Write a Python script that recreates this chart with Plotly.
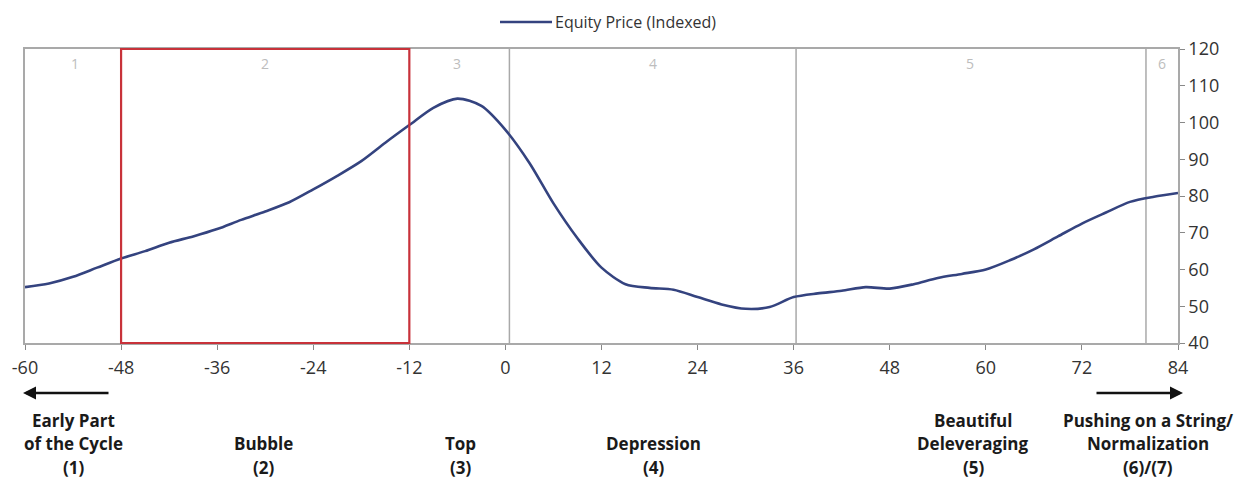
import plotly.graph_objects as go

# ---- data ----
months = list(range(-60, 85, 3))
equity_price = [55.2, 56.2, 58.0, 60.5, 63.0, 65.0, 67.3, 69.0, 71.0, 73.5,
                75.8, 78.3, 81.8, 85.5, 89.5, 94.5, 99.3, 104.0, 106.5, 104.5,
                98.0, 89.0, 78.0, 68.5, 60.5, 56.0, 55.0, 54.5, 52.5, 50.5,
                49.3, 49.8, 52.5, 53.5, 54.2, 55.2, 54.8, 56.0, 57.7, 58.8,
                60.0, 62.5, 65.5, 69.0, 72.5, 75.5, 78.4, 79.8, 80.8]
x_ticks = list(range(-60, 85, 12))
y_ticks = list(range(40, 121, 10))
phase_numbers = ["1", "2", "3", "4", "5", "6"]
phase_number_x = [-53.75, -30, -6, 18.4, 58, 82]
phase_dividers = [0.5, 36.3, 80]
bubble_box = (-48, -12)
phase_labels = [
    ["Early Part", "of the Cycle", "(1)"],
    ["Bubble", "(2)"],
    ["Top", "(3)"],
    ["Depression", "(4)"],
    ["Beautiful", "Deleveraging", "(5)"],
    ["Pushing on a String/", "Normalization", "(6)/(7)"],
]
phase_label_x = [-54, -30.25, -5.6, 18.5, 58.4, 80.25]

W, H = 1244, 479
ML, MR, MT, MB = 25, 66, 49, 136
PW, PH = W - ML - MR, H - MT - MB


def py(pix):
    """pixel row -> paper y"""
    return (H - MB - pix) / PH


def px(pix):
    return (pix - ML) / PW


FONT = "Open Sans"
fig = go.Figure()
fig.add_trace(go.Scatter(
    x=months, y=equity_price, mode="lines", name="Equity Price (Indexed)",
    line=dict(color="#34437f", width=2.6, shape="spline", smoothing=0.8),
    showlegend=False,
))

shapes = []
for d in phase_dividers:
    shapes.append(dict(type="line", xref="x", yref="paper", x0=d, x1=d, y0=0, y1=1,
                       line=dict(color="#a9a9a9", width=1.5), layer="below"))
shapes.append(dict(type="rect", xref="x", yref="paper", x0=bubble_box[0], x1=bubble_box[1],
                   y0=0, y1=1, line=dict(color="#c8323a", width=2.2)))
# manual legend sample line
shapes.append(dict(type="line", xref="paper", yref="paper", x0=px(500), x1=px(552),
                   y0=py(22), y1=py(22), line=dict(color="#34437f", width=2.6)))

annotations = []
annotations.append(dict(xref="paper", yref="paper", x=px(553), y=py(22), xanchor="left",
                        yanchor="middle", text="Equity Price (Indexed)", showarrow=False,
                        font=dict(family=FONT, size=16, color="#333333")))
for t, xv in zip(phase_numbers, phase_number_x):
    annotations.append(dict(xref="x", yref="paper", x=xv, y=py(64), text=t, showarrow=False,
                            yanchor="middle", font=dict(family=FONT, size=14, color="#bdbdbd")))
line_rows = {3: [420, 443, 467], 2: [443, 467]}
for lines, xv in zip(phase_labels, phase_label_x):
    rows = line_rows[len(lines)]
    for txt, r in zip(lines, rows):
        annotations.append(dict(xref="x", yref="paper", x=xv, y=py(r), text="<b>" + txt + "</b>",
                                showarrow=False, yanchor="middle", xanchor="center",
                                font=dict(family=FONT, size=17, color="#1a1a1a")))
# arrows
annotations.append(dict(xref="paper", yref="paper", x=px(23), y=py(393), ax=87, ay=0,
                        axref="pixel", ayref="pixel", text="", showarrow=True,
                        arrowhead=2, arrowsize=1, arrowwidth=2.6, arrowcolor="#111111"))
annotations.append(dict(xref="paper", yref="paper", x=px(1183), y=py(393), ax=-88, ay=0,
                        axref="pixel", ayref="pixel", text="", showarrow=True,
                        arrowhead=2, arrowsize=1, arrowwidth=2.6, arrowcolor="#111111"))

fig.update_layout(
    width=W, height=H,
    margin=dict(l=ML, r=MR, t=MT, b=MB),
    paper_bgcolor="white", plot_bgcolor="white",
    font=dict(family=FONT, size=18, color="#333333"),
    shapes=shapes, annotations=annotations,
    xaxis=dict(range=[-60, 84], tickvals=x_ticks, ticktext=[str(v) for v in x_ticks],
               showgrid=False, zeroline=False, showline=True, mirror=True,
               linecolor="#a9a9a9", linewidth=1.5, ticks="outside", ticklen=5,
               tickcolor="#888888", ticklabelstandoff=3),
    yaxis=dict(range=[40, 120], tickvals=y_ticks, side="right", showgrid=False,
               zeroline=False, showline=True, mirror=True, linecolor="#a9a9a9",
               linewidth=1.5, ticks="outside", ticklen=5, tickcolor="#888888"),
)

fig.write_html("out.html", config={"displayModeBar": False},
               post_script="document.body.style.margin='0';")
